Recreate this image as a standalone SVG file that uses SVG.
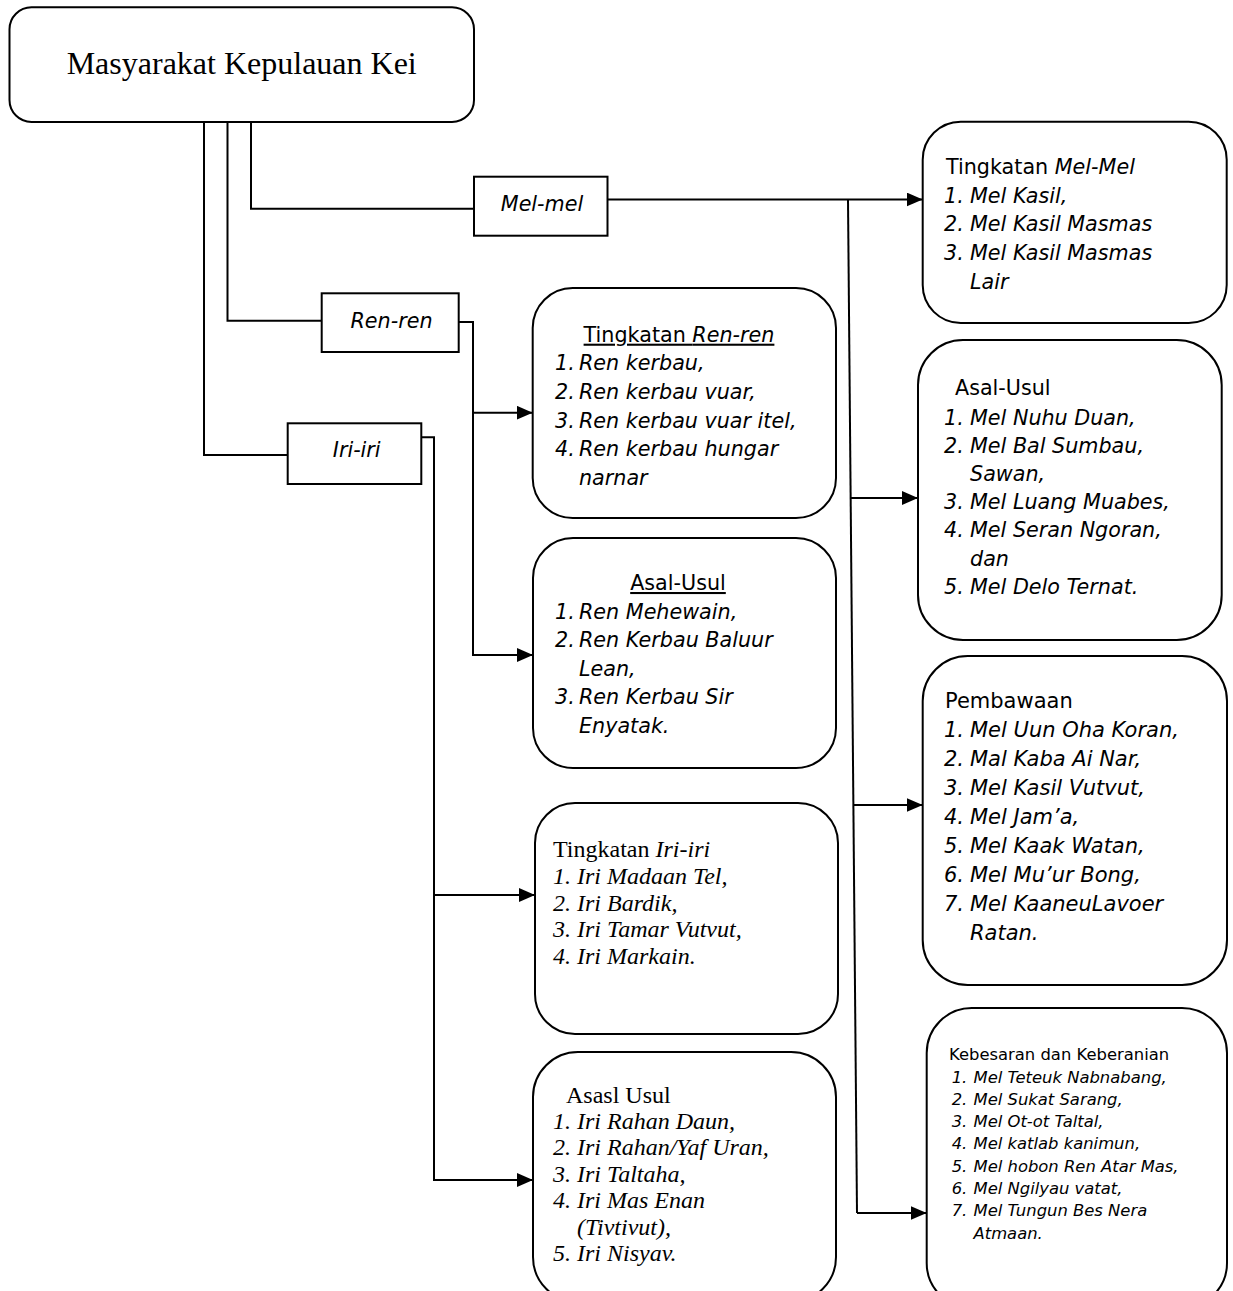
<svg xmlns="http://www.w3.org/2000/svg" width="1233" height="1291" viewBox="0 0 1233 1291">
<defs>
<style>
.box{fill:#fff;stroke:#000;stroke-width:2}
.conn{fill:none;stroke:#000;stroke-width:2}
.sans{font-family:"DejaVu Sans",Verdana,sans-serif;font-size:20.7px;fill:#000}
.small{font-size:16.4px}
.p21{font-size:21px}
.serif{font-family:"Liberation Serif","Times New Roman",serif;font-size:24px;fill:#000}
.it{font-style:italic}
.ul{text-decoration:underline}
</style>
<marker id="arrow" markerUnits="userSpaceOnUse" markerWidth="16" markerHeight="14" refX="16" refY="7" orient="auto">
<path d="M0,0 L16,7 L0,14 z" fill="#000"/>
</marker>
</defs>
<rect width="1233" height="1291" fill="#fff"/>

<g id="connectors">
<path class="conn" d="M251,122 V208.7 H474"/>
<path class="conn" d="M227.5,122 V320.7 H321.7"/>
<path class="conn" d="M204,122 V455 H287.7"/>
<path class="conn" d="M607.5,199.5 H922.7" marker-end="url(#arrow)"/>
<path class="conn" d="M848,199.5 L857,1213"/>
<path class="conn" d="M850.6,498 H918" marker-end="url(#arrow)"/>
<path class="conn" d="M853.4,805 H922.7" marker-end="url(#arrow)"/>
<path class="conn" d="M857,1213 H926.7" marker-end="url(#arrow)"/>
<path class="conn" d="M458.7,322 H473 V655 H533" marker-end="url(#arrow)"/>
<path class="conn" d="M473,412.7 H532.7" marker-end="url(#arrow)"/>
<path class="conn" d="M421.3,437.3 H434 V1180 H533" marker-end="url(#arrow)"/>
<path class="conn" d="M434,895 H535" marker-end="url(#arrow)"/>
</g>

<g id="root">
<rect class="box" x="9.5" y="7.3" width="464.5" height="114.7" rx="22"/>
<text x="241.7" y="74" text-anchor="middle" class="serif" style="font-size:32px">Masyarakat Kepulauan Kei</text>
</g>

<g id="mel-mel">
<rect class="box" x="474" y="176.7" width="133.5" height="59"/>
<text x="542" y="210.7" text-anchor="middle" class="sans it">Mel-mel</text>
</g>

<g id="ren-ren">
<rect class="box" x="321.7" y="293.3" width="137" height="58.7"/>
<text x="391.5" y="327.7" text-anchor="middle" class="sans it">Ren-ren</text>
</g>

<g id="iri-iri">
<rect class="box" x="287.7" y="423.3" width="133.6" height="60.7"/>
<text x="356.7" y="456.7" text-anchor="middle" class="sans it">Iri-iri</text>
</g>

<g id="tingkatan-mel">
<rect class="box" x="922.7" y="121.7" width="304" height="201.3" rx="38"/>
<text x="946" y="174" class="sans">Tingkatan <tspan class="it">Mel-Mel</tspan></text>
<text y="202.7" class="sans it"><tspan x="944">1.</tspan><tspan x="970">Mel Kasil,</tspan></text>
<text y="231.3" class="sans it"><tspan x="944">2.</tspan><tspan x="970">Mel Kasil Masmas</tspan></text>
<text y="260" class="sans it"><tspan x="944">3.</tspan><tspan x="970">Mel Kasil Masmas</tspan></text>
<text y="288.6" class="sans it"><tspan x="970">Lair</tspan></text>
</g>

<g id="asal-usul-mel">
<rect class="box" x="918" y="340" width="303.7" height="300" rx="45"/>
<text x="955" y="395" class="sans">Asal-Usul</text>
<text y="424.5" class="sans it"><tspan x="944">1.</tspan><tspan x="970">Mel Nuhu Duan,</tspan></text>
<text y="452.7" class="sans it"><tspan x="944">2.</tspan><tspan x="970">Mel Bal Sumbau,</tspan></text>
<text y="480.9" class="sans it"><tspan x="970">Sawan,</tspan></text>
<text y="509.1" class="sans it"><tspan x="944">3.</tspan><tspan x="970">Mel Luang Muabes,</tspan></text>
<text y="537.3" class="sans it"><tspan x="944">4.</tspan><tspan x="970">Mel Seran Ngoran,</tspan></text>
<text y="565.5" class="sans it"><tspan x="970">dan</tspan></text>
<text y="593.7" class="sans it"><tspan x="944">5.</tspan><tspan x="970">Mel Delo Ternat.</tspan></text>
</g>

<g id="pembawaan">
<rect class="box" x="922.7" y="656" width="304.3" height="329" rx="45"/>
<text x="945" y="708.3" class="sans p21">Pembawaan</text>
<text y="737.3" class="sans p21 it"><tspan x="944">1.</tspan><tspan x="970">Mel Uun Oha Koran,</tspan></text>
<text y="766.2" class="sans p21 it"><tspan x="944">2.</tspan><tspan x="970">Mal Kaba Ai Nar,</tspan></text>
<text y="795.1" class="sans p21 it"><tspan x="944">3.</tspan><tspan x="970">Mel Kasil Vutvut,</tspan></text>
<text y="824" class="sans p21 it"><tspan x="944">4.</tspan><tspan x="970">Mel Jam’a,</tspan></text>
<text y="852.8" class="sans p21 it"><tspan x="944">5.</tspan><tspan x="970">Mel Kaak Watan,</tspan></text>
<text y="881.7" class="sans p21 it"><tspan x="944">6.</tspan><tspan x="970">Mel Mu’ur Bong,</tspan></text>
<text y="910.7" class="sans p21 it"><tspan x="944">7.</tspan><tspan x="970">Mel KaaneuLavoer</tspan></text>
<text y="940" class="sans p21 it"><tspan x="970">Ratan.</tspan></text>
</g>

<g id="kebesaran">
<rect class="box" x="926.7" y="1008" width="300.3" height="300" rx="45"/>
<text x="949" y="1059.5" class="sans small">Kebesaran dan Keberanian</text>
<text y="1082.5" class="sans small it"><tspan x="951.7">1.</tspan><tspan x="973.5">Mel Teteuk Nabnabang,</tspan></text>
<text y="1104.8" class="sans small it"><tspan x="951.7">2.</tspan><tspan x="973.5">Mel Sukat Sarang,</tspan></text>
<text y="1127.1" class="sans small it"><tspan x="951.7">3.</tspan><tspan x="973.5">Mel Ot-ot Taltal,</tspan></text>
<text y="1149.4" class="sans small it"><tspan x="951.7">4.</tspan><tspan x="973.5">Mel katlab kanimun,</tspan></text>
<text y="1171.7" class="sans small it"><tspan x="951.7">5.</tspan><tspan x="973.5">Mel hobon Ren Atar Mas,</tspan></text>
<text y="1194" class="sans small it"><tspan x="951.7">6.</tspan><tspan x="973.5">Mel Ngilyau vatat,</tspan></text>
<text y="1216.3" class="sans small it"><tspan x="951.7">7.</tspan><tspan x="973.5">Mel Tungun Bes Nera</tspan></text>
<text y="1238.6" class="sans small it"><tspan x="973.5">Atmaan.</tspan></text>
</g>

<g id="tingkatan-ren">
<rect class="box" x="532.7" y="288" width="303.3" height="230" rx="40"/>
<text x="679" y="341.7" text-anchor="middle" class="sans ul">Tingkatan <tspan class="it">Ren-ren</tspan></text>
<text y="370.3" class="sans it"><tspan x="555">1.</tspan><tspan x="579">Ren kerbau,</tspan></text>
<text y="398.9" class="sans it"><tspan x="555">2.</tspan><tspan x="579">Ren kerbau vuar,</tspan></text>
<text y="427.5" class="sans it"><tspan x="555">3.</tspan><tspan x="579">Ren kerbau vuar itel,</tspan></text>
<text y="456.1" class="sans it"><tspan x="555">4.</tspan><tspan x="579">Ren kerbau hungar</tspan></text>
<text y="484.7" class="sans it"><tspan x="579">narnar</tspan></text>
</g>

<g id="asal-usul-ren">
<rect class="box" x="533" y="538" width="303" height="230" rx="40"/>
<text x="678" y="590" text-anchor="middle" class="sans ul">Asal-Usul</text>
<text y="618.6" class="sans it"><tspan x="555">1.</tspan><tspan x="579">Ren Mehewain,</tspan></text>
<text y="647.2" class="sans it"><tspan x="555">2.</tspan><tspan x="579">Ren Kerbau Baluur</tspan></text>
<text y="675.8" class="sans it"><tspan x="579">Lean,</tspan></text>
<text y="704.4" class="sans it"><tspan x="555">3.</tspan><tspan x="579">Ren Kerbau Sir</tspan></text>
<text y="733" class="sans it"><tspan x="579">Enyatak.</tspan></text>
</g>

<g id="tingkatan-iri">
<rect class="box" x="535" y="803" width="303" height="231" rx="40"/>
<text x="553" y="857" class="serif">Tingkatan <tspan class="it">Iri-iri</tspan></text>
<text y="884" class="serif it"><tspan x="553">1.</tspan><tspan x="577">Iri Madaan Tel,</tspan></text>
<text y="910.7" class="serif it"><tspan x="553">2.</tspan><tspan x="577">Iri Bardik,</tspan></text>
<text y="937.3" class="serif it"><tspan x="553">3.</tspan><tspan x="577">Iri Tamar Vutvut,</tspan></text>
<text y="964" class="serif it"><tspan x="553">4.</tspan><tspan x="577">Iri Markain.</tspan></text>
</g>

<g id="asal-usul-iri">
<rect class="box" x="533" y="1052" width="303" height="250" rx="45"/>
<text x="566" y="1103" class="serif">Asasl Usul</text>
<text y="1128.5" class="serif it"><tspan x="553">1.</tspan><tspan x="577">Iri Rahan Daun,</tspan></text>
<text y="1155" class="serif it"><tspan x="553">2.</tspan><tspan x="577">Iri Rahan/Yaf Uran,</tspan></text>
<text y="1181.5" class="serif it"><tspan x="553">3.</tspan><tspan x="577">Iri Taltaha,</tspan></text>
<text y="1208" class="serif it"><tspan x="553">4.</tspan><tspan x="577">Iri Mas Enan</tspan></text>
<text y="1234.5" class="serif it"><tspan x="577">(Tivtivut),</tspan></text>
<text y="1261" class="serif it"><tspan x="553">5.</tspan><tspan x="577">Iri Nisyav.</tspan></text>
</g>
</svg>
